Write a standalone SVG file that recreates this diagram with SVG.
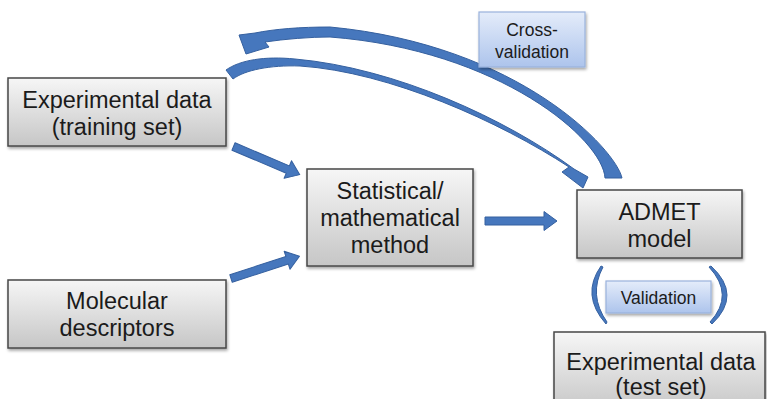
<svg xmlns="http://www.w3.org/2000/svg" width="767" height="399" viewBox="0 0 767 399">
  <defs>
    <linearGradient id="grayFill" x1="0" y1="0" x2="0" y2="1">
      <stop offset="0" stop-color="#f6f6f6"/>
      <stop offset="1" stop-color="#c6c6c6"/>
    </linearGradient>
    <linearGradient id="blueFill" x1="0" y1="0" x2="0" y2="1">
      <stop offset="0" stop-color="#e4ecfa"/>
      <stop offset="1" stop-color="#adc4ec"/>
    </linearGradient>
    <filter id="shadow" x="-10%" y="-10%" width="125%" height="135%">
      <feDropShadow dx="1" dy="2" stdDeviation="1.5" flood-color="#000" flood-opacity="0.35"/>
    </filter>
    <!-- straight block arrow pointing along +x, length 72 -->
    <path id="blockArrow" d="M 0 -4 L 59 -4 L 59 -9.5 L 72 0 L 59 9.5 L 59 4 L 0 4 Z"/>
  </defs>
  <style>
    .box { fill: url(#grayFill); stroke: #474747; stroke-width: 1.5; filter: url(#shadow); }
    .tag { fill: url(#blueFill); stroke: #9ab2dc; stroke-width: 1.2; filter: url(#shadow); }
    .label { font-family: "Liberation Sans", Arial, sans-serif; font-size: 23.5px; fill: #1b1b1b; text-anchor: middle; }
    .small { font-family: "Liberation Sans", Arial, sans-serif; font-size: 17.5px; fill: #1b1b1b; text-anchor: middle; }
    .arrow { fill: #4677bd; stroke: #35609f; stroke-width: 1; stroke-linejoin: round; }
  </style>

  <rect width="767" height="399" fill="#ffffff"/>

  <!-- connectors -->
  <g id="connectors">
    <use href="#blockArrow" class="arrow" transform="translate(233.5,146.5) rotate(23)"/>
    <use href="#blockArrow" class="arrow" transform="translate(231,278.5) rotate(-18)"/>
    <use href="#blockArrow" class="arrow" transform="translate(485,221)"/>
    <!-- curved arrow: training set to model -->
    <path class="arrow" d="M 226 70 C 240 60, 265 56, 295 59 C 396 68, 506 119, 574 169 L 588 177 L 583 188 L 562 172 L 569 167 C 500 122, 390 72, 300 66 C 270 65, 245 70, 233 79 Z"/>
    <!-- curved arrow: model back to training set (cross-validation) -->
    <path class="arrow" d="M 622 178 C 616 150, 520 45, 330 27 C 300 27, 275 29, 255 33 L 239 35 L 246 54 L 269 47 L 265 42 C 285 39, 310 37, 330 37 C 500 50, 603 140, 605 178 Z"/>
    <!-- validation brackets -->
    <path class="arrow" d="M 601 266 Q 580.5 295 606 324 L 607 322 Q 588 295 603 267 Z"/>
    <path class="arrow" d="M 711 266 Q 742.5 295 712 324 L 710 322 Q 735 295 709 267 Z"/>
  </g>

  <g id="training-data">
    <rect class="box" x="8" y="78" width="218" height="68"/>
    <text class="label" x="117" y="107.5">Experimental data</text>
    <text class="label" x="117" y="135">(training set)</text>
  </g>

  <g id="descriptors">
    <rect class="box" x="8" y="280" width="218" height="68"/>
    <text class="label" x="117" y="309">Molecular</text>
    <text class="label" x="117" y="336">descriptors</text>
  </g>

  <g id="method">
    <rect class="box" x="307" y="169" width="166" height="97"/>
    <text class="label" x="390" y="198.5">Statistical/</text>
    <text class="label" x="390" y="226">mathematical</text>
    <text class="label" x="390" y="253">method</text>
  </g>

  <g id="model">
    <rect class="box" x="577" y="190" width="165" height="68"/>
    <text class="label" x="659.5" y="220">ADMET</text>
    <text class="label" x="659.5" y="246.5">model</text>
  </g>

  <g id="test-data">
    <rect class="box" x="554" y="332" width="211" height="80"/>
    <text class="label" x="661" y="370">Experimental data</text>
    <text class="label" x="661" y="395">(test set)</text>
  </g>

  <g id="cross-validation">
    <rect class="tag" x="479" y="12" width="106" height="55"/>
    <text class="small" x="532" y="35.5">Cross-</text>
    <text class="small" x="532" y="58">validation</text>
  </g>

  <g id="validation">
    <rect class="tag" x="606" y="281" width="105" height="32"/>
    <text class="small" x="658.5" y="303.5">Validation</text>
  </g>
</svg>
